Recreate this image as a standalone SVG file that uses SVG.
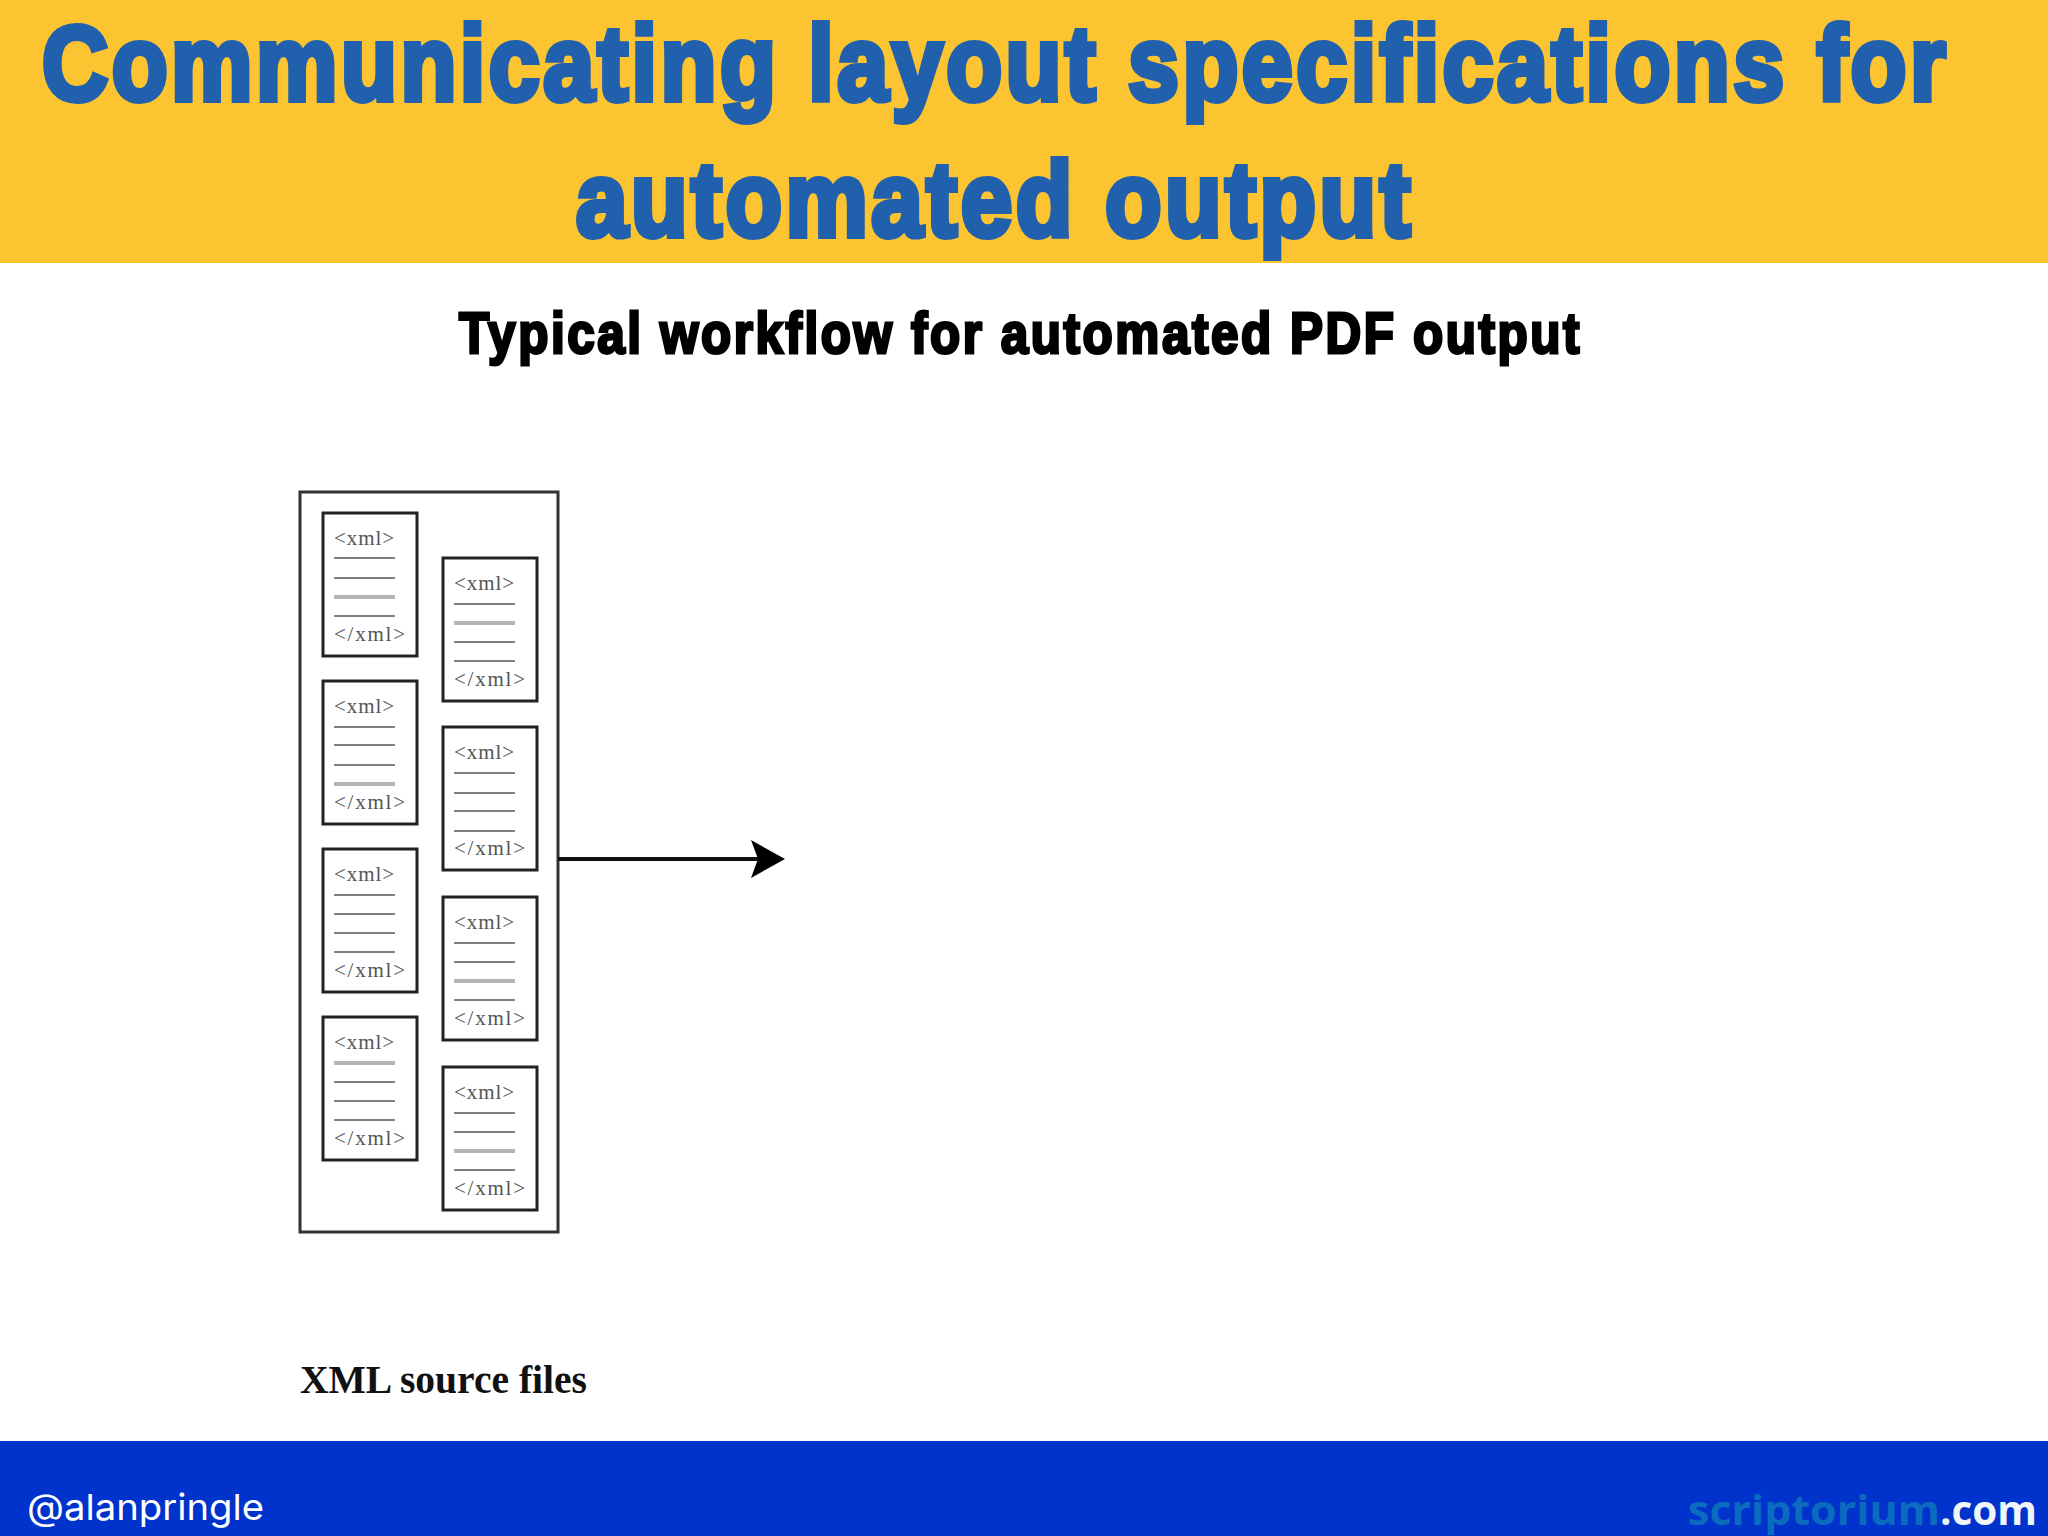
<svg xmlns="http://www.w3.org/2000/svg" width="2048" height="1536" viewBox="0 0 2048 1536">
<style>
.t{font-family:"Liberation Sans",Arial,sans-serif;font-weight:700}
.h{fill:#2160ad;stroke:#2160ad;stroke-width:6;stroke-linejoin:miter;font-size:105px;letter-spacing:4px}
.s{fill:#000;stroke:#000;stroke-width:3;font-size:58px;letter-spacing:3px}
.d{fill:#fff;stroke:#222;stroke-width:3}
.x{font-family:"Liberation Serif",serif;font-size:21px;fill:#555}
.l{stroke:#555;stroke-width:1.6}
.g{stroke:#b4b4b4;stroke-width:4}
</style>
<defs>
<g id="base">
<rect class="d" x="0" y="0" width="94" height="143"/>
<text class="x" x="11" y="32" textLength="60" lengthAdjust="spacing">&lt;xml&gt;</text>
<text class="x" x="11" y="128" textLength="71" lengthAdjust="spacing">&lt;/xml&gt;</text>
</g>
</defs>
<rect width="2048" height="1536" fill="#fff"/>
<rect id="banner" width="2048" height="263" fill="#fdc431"/>
<rect id="footer" y="1441" width="2048" height="95" fill="#0033cc"/>
<text class="t h" transform="translate(42 100) scale(.8725 1)">Communicating layout specifications for</text>
<text class="t h" x="576" y="236" textLength="838" lengthAdjust="spacingAndGlyphs">automated output</text>
<text class="t s" x="459" y="353" textLength="1123" lengthAdjust="spacingAndGlyphs">Typical workflow for automated PDF output</text>
<g id="xml-source-files">
<rect x="300" y="492" width="258" height="740" fill="#fff" stroke="#333" stroke-width="3"/>
</g>
<g id="doc-l1" transform="translate(323 513)"><use href="#base"/><path class="l" d="M11 45h61M11 65h61M11 103h61"/><path class="g" d="M11 84h61"/></g>
<g id="doc-l2" transform="translate(323 681)"><use href="#base"/><path class="l" d="M11 46h61M11 64h61M11 84h61"/><path class="g" d="M11 103h61"/></g>
<g id="doc-l3" transform="translate(323 849)"><use href="#base"/><path class="l" d="M11 46h61M11 65h61M11 84h61M11 103h61"/></g>
<g id="doc-l4" transform="translate(323 1017)"><use href="#base"/><path class="g" d="M11 46h61"/><path class="l" d="M11 65h61M11 84h61M11 103h61"/></g>
<g id="doc-r1" transform="translate(443 558)"><use href="#base"/><path class="l" d="M11 46h61M11 84h61M11 103h61"/><path class="g" d="M11 65h61"/></g>
<g id="doc-r2" transform="translate(443 727)"><use href="#base"/><path class="l" d="M11 46h61M11 66h61M11 84h61M11 104h61"/></g>
<g id="doc-r3" transform="translate(443 897)"><use href="#base"/><path class="l" d="M11 46h61M11 65h61M11 103h61"/><path class="g" d="M11 84h61"/></g>
<g id="doc-r4" transform="translate(443 1067)"><use href="#base"/><path class="l" d="M11 46h61M11 65h61M11 103h61"/><path class="g" d="M11 84h61"/></g>
<g id="connectors">
<path d="M558 859H762" stroke="#111" stroke-width="4" fill="none"/>
<path d="M751 840L785 859L751 878L758 859Z" fill="#000"/>
</g>
<text x="300" y="1393" font-family="'Liberation Serif',serif" font-weight="700" font-size="40" fill="#111" textLength="287" lengthAdjust="spacingAndGlyphs">XML source files</text>
<text x="27" y="1520" font-family="Inter,'Liberation Sans',sans-serif" font-size="36" fill="#fff" textLength="237" lengthAdjust="spacingAndGlyphs">@alanpringle</text>
<text x="1688" y="1525" font-family="'Open Sans',sans-serif" font-weight="700" font-size="42" fill="#0b6cbf" textLength="252" lengthAdjust="spacingAndGlyphs">scriptorium</text>
<text x="1940" y="1525" font-family="'Open Sans',sans-serif" font-weight="700" font-size="42" fill="#eef5fb" textLength="97" lengthAdjust="spacingAndGlyphs">.com</text>
</svg>
